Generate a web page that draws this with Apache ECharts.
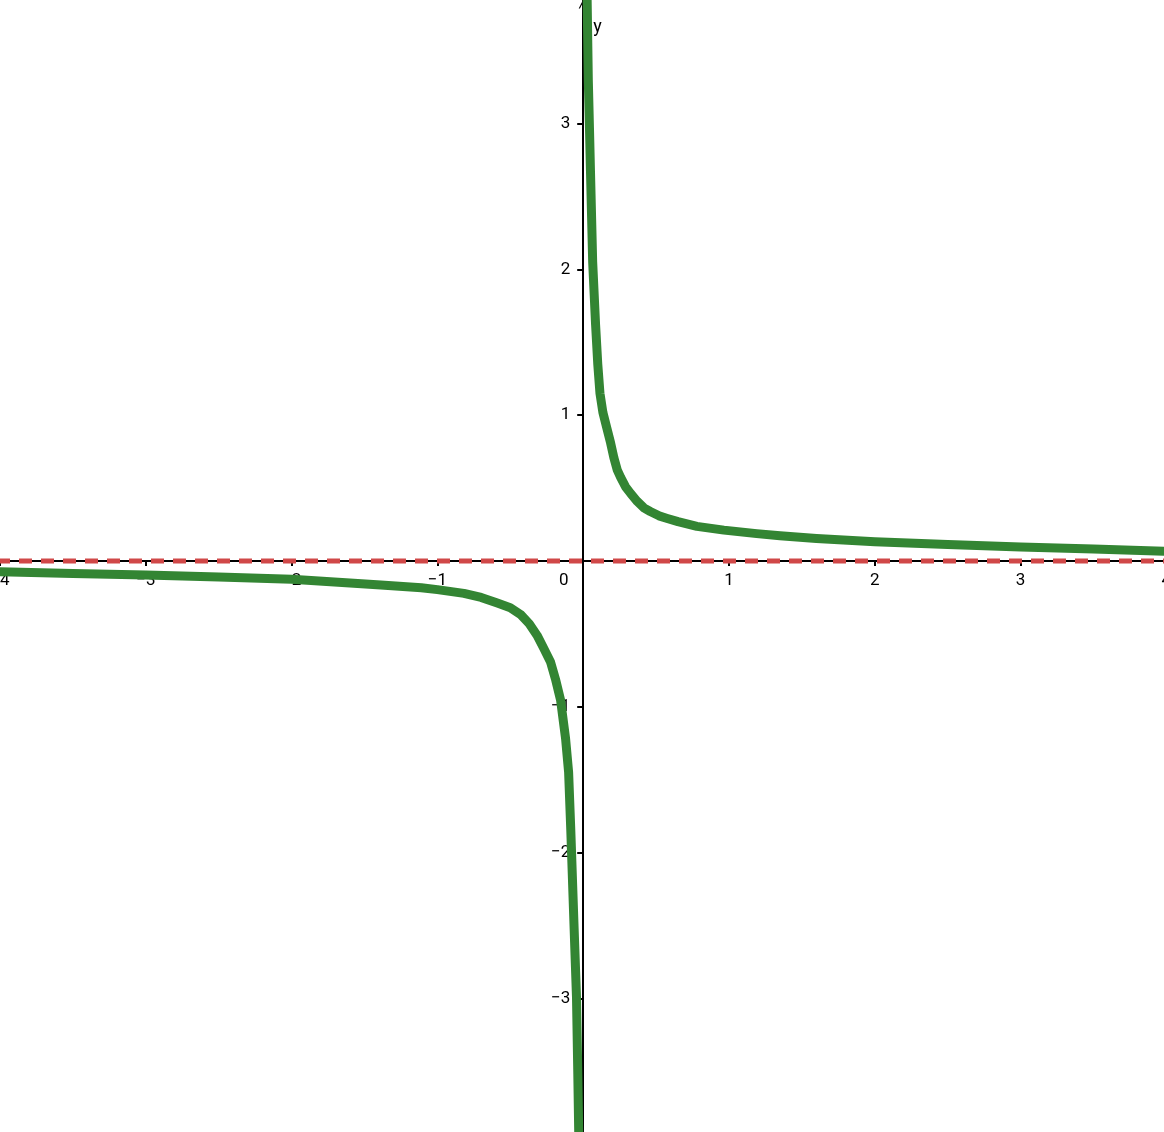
<!DOCTYPE html>
<html>
<head>
<meta charset="utf-8">
<script src="https://cdn.jsdelivr.net/npm/echarts@6/dist/echarts.min.js"></script>
<style>
  html, body { margin: 0; padding: 0; background: #fff; }
  #chart { width: 1164px; height: 1132px; }
</style>
</head>
<body>
<div id="chart"></div>
<script>
/* curve: branch for x > 0 */
const rightX = [0.027, 0.035, 0.043, 0.05, 0.065, 0.085, 0.1, 0.115, 0.135, 0.16, 0.188, 0.21, 0.234, 0.256, 0.29, 0.325, 0.37, 0.416, 0.46, 0.52, 0.577, 0.65, 0.78, 0.965, 1.19, 1.35, 1.6, 2, 2.5, 3, 3.5, 4];
const rightY = [3.85, 3.3, 2.97, 2.67, 2.05, 1.62, 1.35, 1.15, 1.02, 0.92, 0.81, 0.71, 0.623, 0.575, 0.51, 0.464, 0.41, 0.365, 0.34, 0.31, 0.292, 0.27, 0.238, 0.212, 0.188, 0.173, 0.155, 0.132, 0.113, 0.096, 0.082, 0.067];

/* branch for x < 0 */
const leftX = [-4, -3.5, -3, -2.5, -2, -1.6, -1.388, -1.11, -1.0, -0.818, -0.7, -0.589, -0.5, -0.43, -0.37, -0.316, -0.27, -0.224, -0.19, -0.155, -0.121, -0.1, -0.085, -0.064, -0.046, -0.037, -0.030];
const leftY = [-0.073, -0.085, -0.096, -0.11, -0.125, -0.15, -0.165, -0.183, -0.196, -0.222, -0.25, -0.288, -0.32, -0.366, -0.43, -0.51, -0.6, -0.693, -0.81, -0.954, -1.216, -1.45, -1.85, -2.47, -2.99, -3.52, -3.96];

/* horizontal asymptote */
const asymX = [-4, 4];
const asymY = [0, 0];

/* tick values */
const xTicks = [-4, -3, -2, -1, 1, 2, 3, 4];
const xLabels = [-4, -3, -2, -1, 0, 1, 2, 3, 4];
const yTicks = [-3, -2, -1, 1, 2, 3];

const W = 1164, H = 1132;
const xMin = -4, xMax = 4;
const yMin = -3.916, yMax = 3.848;
const gridRight = -2.4;

/* move the axes onto the origin */
const xOffset = -H * (0 - yMin) / (yMax - yMin);
const yOffset = -(W - gridRight) * (0 - xMin) / (xMax - xMin);

function pairs(xs, ys){
    return xs.map((x, i) => [x, ys[i]]);
}

function fmt(v){
    if(v === 0){
        return "{z|0}";
    }
    return v < 0 ? "\u2212" + (-v) : String(v);
}

const chart = echarts.init(document.getElementById("chart"));

const curveStyle = {
    color: "#338533",
    width: 9,
    cap: "round",
    join: "round"
};

const option = {

    animation: false,
    backgroundColor: "#ffffff",

    grid: {
        left: 0,
        right: gridRight,
        top: 0,
        bottom: 0,
        containLabel: false,
        outerBoundsMode: "none"
    },

    xAxis: {
        type: "value",
        min: xMin,
        max: xMax,
        position: "bottom",
        offset: xOffset,
        splitLine: { show: false },
        axisLine: {
            onZero: false,
            lineStyle: { color: "#000", width: 2 }
        },
        axisTick: {
            customValues: xTicks,
            length: 5,
            lineStyle: { color: "#000", width: 2 }
        },
        axisLabel: {
            customValues: xLabels,
            formatter: fmt,
            margin: 11,
            color: "#000",
            fontSize: 17,
            fontFamily: "Roboto",
            rich: {
                z: {
                    fontSize: 17,
                    fontFamily: "Roboto",
                    color: "#000",
                    padding: [0, 39, 0, 0]
                }
            }
        }
    },

    yAxis: {
        type: "value",
        min: yMin,
        max: yMax,
        position: "left",
        offset: yOffset,
        name: "y",
        nameLocation: "end",
        nameGap: -36,
        nameTextStyle: {
            color: "#000",
            fontSize: 18,
            fontFamily: "Roboto",
            align: "left",
            padding: [0, 0, 0, 10]
        },
        splitLine: { show: false },
        axisLine: {
            onZero: false,
            symbol: ["none", "path://M0,10 L5,0 L10,10 L8.6,10 L5,2.8 L1.4,10 Z"],
            symbolSize: [13, 9],
            symbolOffset: [0, -4],
            lineStyle: { color: "#000", width: 2 }
        },
        axisTick: {
            customValues: yTicks,
            length: 6,
            lineStyle: { color: "#000", width: 2 }
        },
        axisLabel: {
            customValues: yTicks,
            formatter: fmt,
            margin: 13,
            color: "#000",
            fontSize: 17,
            fontFamily: "Roboto"
        }
    },

    series: [
        {
            type: "line",
            data: pairs(asymX, asymY),
            showSymbol: false,
            silent: true,
            z: 3,
            lineStyle: {
                color: "#d04848",
                width: 5,
                type: [13, 9],
                dashOffset: 3
            }
        },
        {
            type: "line",
            data: pairs(rightX, rightY),
            showSymbol: false,
            silent: true,
            z: 4,
            lineStyle: curveStyle
        },
        {
            type: "line",
            data: pairs(leftX, leftY),
            showSymbol: false,
            silent: true,
            z: 4,
            lineStyle: curveStyle
        }
    ]

};

chart.setOption(option);
</script>
</body>
</html>
